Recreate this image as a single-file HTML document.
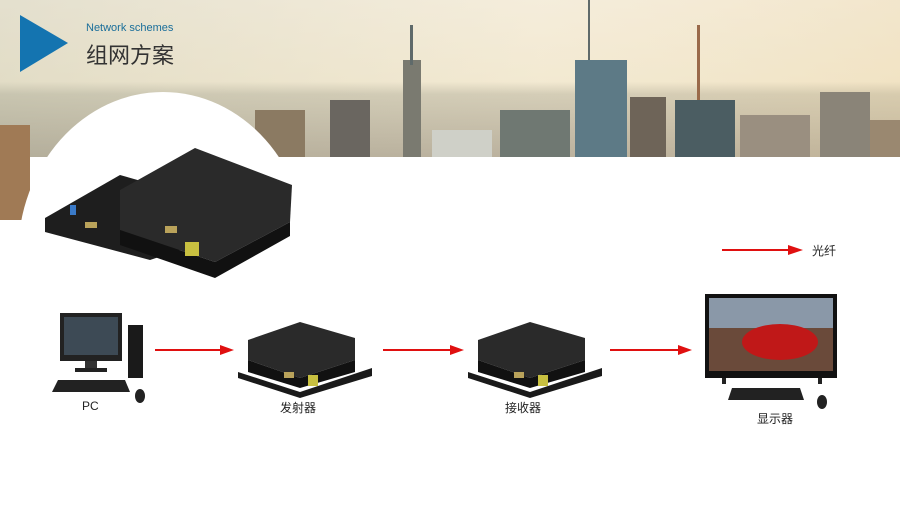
<!DOCTYPE html>
<html><head><meta charset="utf-8"><style>
body{margin:0;width:900px;height:506px;overflow:hidden;background:#fff;font-family:"Liberation Sans","Noto Sans CJK SC",sans-serif;position:relative}
.t{position:absolute;color:#222;font-size:12px}
</style></head><body>
<svg width="900" height="506" style="position:absolute;left:0;top:0">
<defs>
<linearGradient id="sky" x1="0" y1="0" x2="0" y2="1">
<stop offset="0" stop-color="#efe9d8"/><stop offset="0.52" stop-color="#ece3c8"/><stop offset="0.6" stop-color="#b9b49c"/><stop offset="1" stop-color="#8f8672"/></linearGradient>
<linearGradient id="sky2" x1="0" y1="0" x2="1" y2="0">
<stop offset="0" stop-color="#d8d6c4" stop-opacity="0.5"/><stop offset="0.6" stop-color="#fdf3e0" stop-opacity="0.4"/><stop offset="1" stop-color="#f6e3c0" stop-opacity="0.5"/></linearGradient>
</defs>
<rect x="0" y="0" width="900" height="157" fill="url(#sky)"/>
<rect x="0" y="0" width="900" height="157" fill="url(#sky2)"/>
<rect x="0" y="125" width="30" height="95" fill="#a07a55"/>
<g fill="#5f6a6a">
<rect x="403" y="60" width="18" height="97" fill="#7a7a70"/><rect x="410" y="25" width="3" height="40"/>
<rect x="575" y="60" width="52" height="97" fill="#5d7a86"/><rect x="588" y="0" width="2" height="60"/>
<rect x="630" y="97" width="36" height="60" fill="#6e6458"/>
<rect x="675" y="100" width="60" height="57" fill="#4b5d62"/><rect x="697" y="25" width="3" height="75" fill="#9a6a4a"/>
<rect x="820" y="92" width="50" height="65" fill="#8a8478"/>
<rect x="330" y="100" width="40" height="57" fill="#6a6660"/>
<rect x="432" y="130" width="60" height="27" fill="#cfd0c8"/>
<rect x="500" y="110" width="70" height="47" fill="#6f7872"/>
<rect x="255" y="110" width="50" height="47" fill="#8b7a62"/>
<rect x="740" y="115" width="70" height="42" fill="#9a8f80"/>
<rect x="870" y="120" width="30" height="37" fill="#9a8870"/>
</g>
<ellipse cx="163" cy="255" rx="145" ry="163" fill="#fff"/>
<polygon points="20,15 68,43 20,72" fill="#1474b0"/>
<g>
<polygon points="45,218 120,175 225,205 225,235 150,260 45,232" fill="#1e1e1e"/>
<polygon points="120,190 195,148 292,185 290,222 215,262 120,230" fill="#2a2a2a"/>
<polygon points="120,230 215,262 290,222 290,236 215,278 120,245" fill="#111"/>
<rect x="165" y="226" width="12" height="7" fill="#b9a25a"/>
<rect x="185" y="242" width="14" height="14" fill="#c8c040"/>
<rect x="85" y="222" width="12" height="6" fill="#b9a25a"/>
<rect x="70" y="205" width="6" height="10" fill="#3a7ac8"/>
</g>
<g stroke="#e01010" stroke-width="2" fill="#e01010">
<line x1="722" y1="250" x2="790" y2="250"/><polygon points="803,250 788,245 788,255" stroke="none"/>
<line x1="155" y1="350" x2="222" y2="350"/><polygon points="234,350 220,345 220,355" stroke="none"/>
<line x1="383" y1="350" x2="452" y2="350"/><polygon points="464,350 450,345 450,355" stroke="none"/>
<line x1="610" y1="350" x2="680" y2="350"/><polygon points="692,350 678,345 678,355" stroke="none"/>
</g>
<rect x="60" y="313" width="62" height="48" fill="#222"/><rect x="64" y="317" width="54" height="38" fill="#3d4a55"/>
<rect x="85" y="361" width="12" height="8" fill="#333"/><rect x="75" y="368" width="32" height="4" fill="#222"/>
<rect x="128" y="325" width="15" height="53" fill="#1a1a1a"/>
<polygon points="58,380 125,380 130,392 52,392" fill="#222"/>
<ellipse cx="140" cy="396" rx="5" ry="7" fill="#222"/>
<g>
<polygon points="248,340 300,322 355,338 355,360 300,378 248,360" fill="#2a2a2a"/>
<polygon points="248,360 300,378 355,360 355,372 300,388 248,372" fill="#111"/>
<polygon points="238,372 300,392 372,368 372,376 300,398 238,378" fill="#1a1a1a"/>
<rect x="284" y="372" width="10" height="6" fill="#b9a25a"/><rect x="308" y="375" width="10" height="11" fill="#c8c040"/>
</g>
<g transform="translate(230,0)">
<polygon points="248,340 300,322 355,338 355,360 300,378 248,360" fill="#2a2a2a"/>
<polygon points="248,360 300,378 355,360 355,372 300,388 248,372" fill="#111"/>
<polygon points="238,372 300,392 372,368 372,376 300,398 238,378" fill="#1a1a1a"/>
<rect x="284" y="372" width="10" height="6" fill="#b9a25a"/><rect x="308" y="375" width="10" height="11" fill="#c8c040"/>
</g>
<rect x="705" y="294" width="132" height="84" fill="#111"/>
<rect x="709" y="298" width="124" height="73" fill="#6a4a3a"/>
<rect x="709" y="298" width="124" height="30" fill="#8a98a8"/>
<ellipse cx="780" cy="342" rx="38" ry="18" fill="#c01818"/>
<rect x="722" y="378" width="4" height="6" fill="#222"/><rect x="818" y="378" width="4" height="6" fill="#222"/>
<polygon points="732,388 800,388 804,400 728,400" fill="#222"/>
<ellipse cx="822" cy="402" rx="5" ry="7" fill="#222"/>
</svg>
<div class="t" style="left:86px;top:22px;font-size:11px;color:#1a6e9a">Network schemes</div>
<div class="t" style="left:86px;top:38px;font-size:22px;color:#333">组网方案</div>
<div class="t" style="left:812px;top:242px">光纤</div>
<div class="t" style="left:82px;top:399px">PC</div>
<div class="t" style="left:280px;top:399px">发射器</div>
<div class="t" style="left:505px;top:399px">接收器</div>
<div class="t" style="left:757px;top:410px">显示器</div>
</body></html>
